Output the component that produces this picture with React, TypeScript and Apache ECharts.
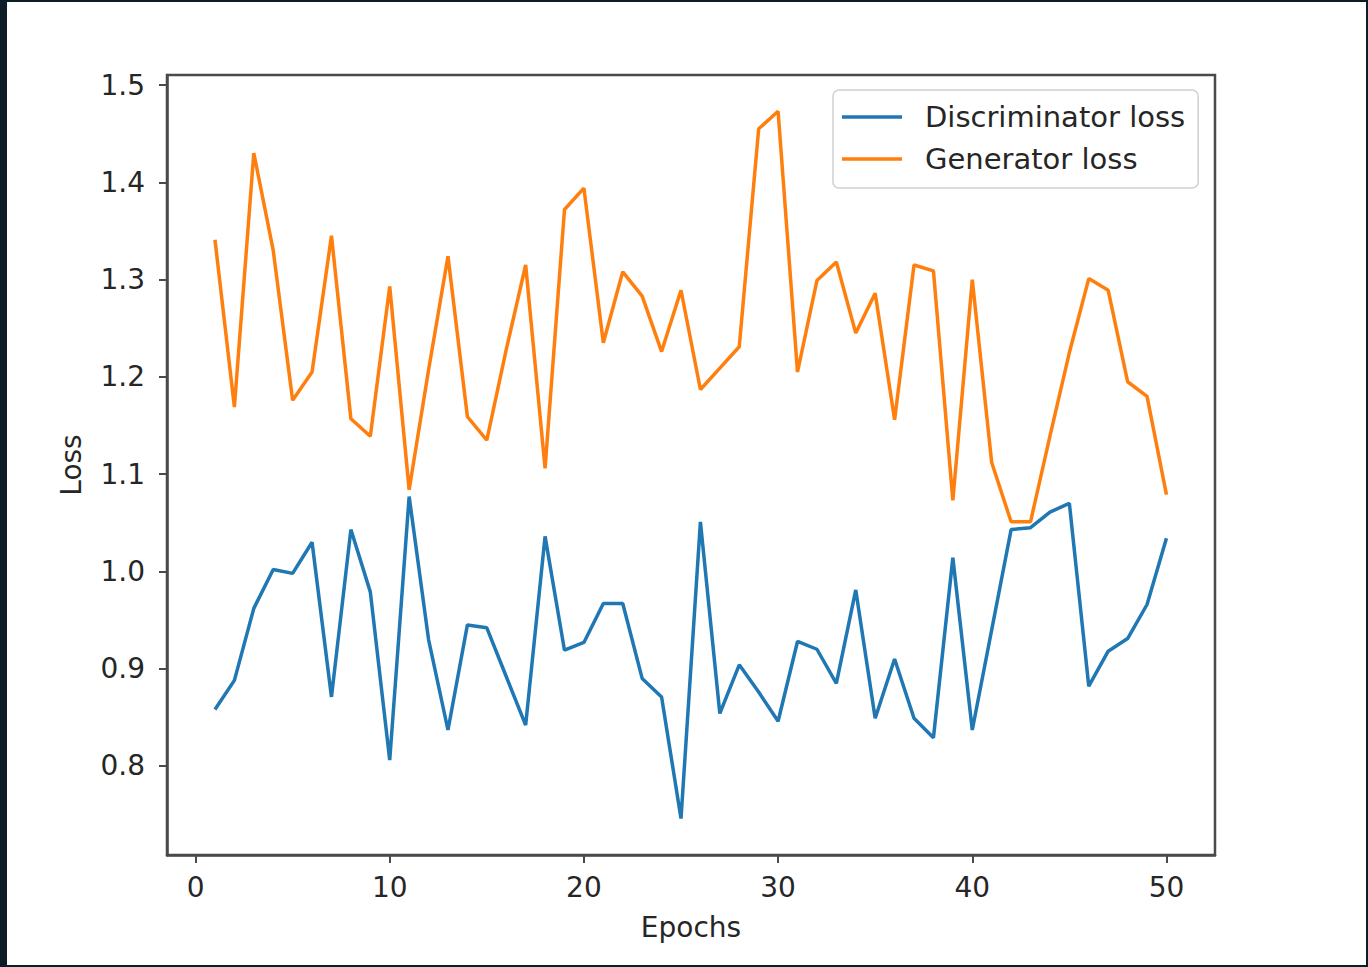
import React, { useEffect, useRef } from "react";
import * as echarts from "echarts";

const epochs = [1, 2, 3, 4, 5, 6, 7, 8, 9, 10, 11, 12, 13, 14, 15, 16, 17, 18, 19, 20, 21, 22, 23, 24, 25, 26, 27, 28, 29, 30, 31, 32, 33, 34, 35, 36, 37, 38, 39, 40, 41, 42, 43, 44, 45, 46, 47, 48, 49, 50];

const discriminatorLoss = [
  0.858, 0.888, 0.962, 1.002, 0.998, 1.03, 0.871, 1.043, 0.979, 0.806,
  1.077, 0.93, 0.837, 0.945, 0.942, 0.892, 0.842, 1.036, 0.919, 0.927,
  0.967, 0.967, 0.89, 0.871, 0.746, 1.051, 0.854, 0.904, 0.876, 0.846,
  0.928, 0.92, 0.885, 0.981, 0.849, 0.91, 0.849, 0.829, 1.014, 0.837,
  0.94, 1.043, 1.045, 1.061, 1.07, 0.882, 0.918, 0.931, 0.966, 1.034,
];

const generatorLoss = [
  1.341, 1.169, 1.43, 1.33, 1.176, 1.205, 1.345, 1.157, 1.139, 1.293,
  1.084, 1.207, 1.324, 1.159, 1.135, 1.228, 1.315, 1.106, 1.372, 1.394,
  1.235, 1.308, 1.283, 1.226, 1.289, 1.187, 1.209, 1.231, 1.455, 1.473,
  1.205, 1.299, 1.318, 1.245, 1.286, 1.156, 1.315, 1.309, 1.073, 1.3,
  1.112, 1.051, 1.051, 1.139, 1.225, 1.301, 1.289, 1.195, 1.18, 1.079,
];

const xTicks = [0, 10, 20, 30, 40, 50];
const yTicks = [0.8, 0.9, 1.0, 1.1, 1.2, 1.3, 1.4, 1.5];

const seriesNames = ["Discriminator loss", "Generator loss"];
const seriesColors = ["#1f77b4", "#ff7f0e"];

const FONT = "DejaVu Sans";
const TEXT = "#262626";
const AXIS = "#4a4a4a";

export default function App() {
  const ref = useRef<HTMLDivElement>(null);

  useEffect(() => {
    if (!ref.current) return;
    const chart = echarts.init(ref.current, undefined, { renderer: "svg" });
    const toPairs = (vals: number[]) => epochs.map((e, i) => [e, vals[i]]);
    chart.setOption({
      animation: false,
      backgroundColor: "transparent",
      textStyle: { fontFamily: FONT },
      grid: {
        left: 167,
        right: 153,
        top: 75,
        bottom: 112,
        show: true,
        borderColor: AXIS,
        borderWidth: 2.5,
        backgroundColor: "transparent",
      },
      legend: {
        data: seriesNames,
        orient: "vertical",
        left: 833,
        top: 90,
        icon: "rect",
        itemWidth: 60,
        itemHeight: 3.5,
        itemGap: 12,
        padding: [12, 13, 14, 9],
        backgroundColor: "#ffffff",
        borderColor: "#d0d0d0",
        borderWidth: 1.5,
        borderRadius: 6,
        textStyle: {
          fontFamily: FONT,
          fontSize: 29,
          color: TEXT,
          lineHeight: 30,
          padding: [0, 0, 0, 18],
        },
      },
      xAxis: {
        type: "value",
        min: -1.47,
        max: 52.5,
        name: "Epochs",
        nameLocation: "middle",
        nameGap: 58,
        nameTextStyle: { fontFamily: FONT, fontSize: 28, color: TEXT },
        axisLine: { show: true, onZero: false, lineStyle: { color: AXIS, width: 2.5 } },
        axisTick: {
          show: true,
          length: 8,
          customValues: xTicks,
          lineStyle: { color: AXIS, width: 2 },
        },
        axisLabel: {
          customValues: xTicks,
          fontFamily: FONT,
          fontSize: 28,
          color: TEXT,
          margin: 18,
          formatter: (v: number) => String(Math.round(v)),
        },
        splitLine: { show: false },
      },
      yAxis: {
        type: "value",
        min: 0.7085,
        max: 1.5103,
        name: "Loss",
        nameLocation: "middle",
        nameGap: 82,
        nameTextStyle: { fontFamily: FONT, fontSize: 28, color: TEXT },
        axisLine: { show: true, onZero: false, lineStyle: { color: AXIS, width: 2.5 } },
        axisTick: {
          show: true,
          length: 8,
          customValues: yTicks,
          lineStyle: { color: AXIS, width: 2 },
        },
        axisLabel: {
          customValues: yTicks,
          fontFamily: FONT,
          fontSize: 28,
          color: TEXT,
          margin: 22,
          formatter: (v: number) => v.toFixed(1),
        },
        splitLine: { show: false },
      },
      series: [
        {
          name: seriesNames[0],
          type: "line",
          data: toPairs(discriminatorLoss),
          showSymbol: false,
          symbol: "none",
          color: seriesColors[0],
          lineStyle: { color: seriesColors[0], width: 3.5 },
        },
        {
          name: seriesNames[1],
          type: "line",
          data: toPairs(generatorLoss),
          showSymbol: false,
          symbol: "none",
          color: seriesColors[1],
          lineStyle: { color: seriesColors[1], width: 3.5 },
        },
      ],
    });
    return () => chart.dispose();
  }, []);

  return (
    <div
      style={{
        position: "absolute",
        left: 0,
        top: 0,
        width: 1368,
        height: 967,
        background: "#0c1d28",
        overflow: "hidden",
      }}
    >
      <div
        style={{
          position: "absolute",
          left: 7,
          top: 2,
          width: 1359,
          height: 963,
          background: "#ffffff",
        }}
      />
      <div
        ref={ref}
        style={{ position: "absolute", left: 0, top: 0, width: 1368, height: 967 }}
      />
    </div>
  );
}
